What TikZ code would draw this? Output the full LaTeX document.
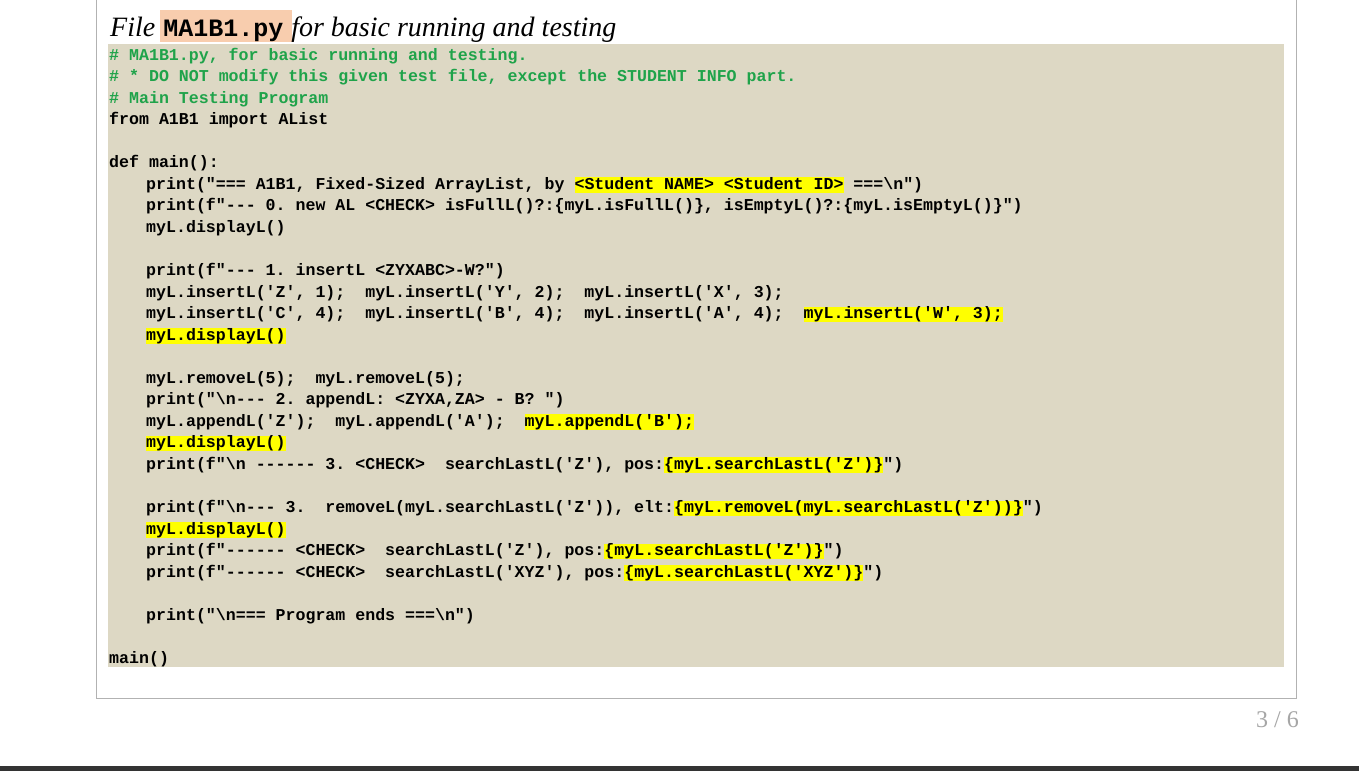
\documentclass[tikz,border=0pt]{standalone}
\usepackage{fontspec}
\setmainfont{Liberation Serif}
\setmonofont{Liberation Mono}
\definecolor{codebg}{HTML}{DDD8C4}
\definecolor{cmt}{HTML}{1FA34A}
\definecolor{peach}{HTML}{F8CDAE}
\definecolor{hl}{HTML}{FFFF00}
\newcommand{\hlt}[1]{{\setlength{\fboxsep}{0pt}\colorbox{hl}{\vphantom{Ay(}\smash{\rule[-5pt]{0pt}{18pt}}#1}}}
\begin{document}
\begin{tikzpicture}[x=1pt,y=-1pt,
  code/.style={anchor=base west,inner sep=0pt,font=\fontsize{16.6}{18}\ttfamily\bfseries},
  comment/.style={code,text=cmt}]
\useasboundingbox (0,0) rectangle (1359,771);
\fill[white] (0,0) rectangle (1359,771);
\draw[gray!60,line width=0.8pt] (96,-5) rectangle (1296,698);
\fill[black!80] (0,766) rectangle (1359,771);
\node[anchor=base east,inner sep=0pt,text=gray!70,font=\fontsize{24}{26}\selectfont] (pg) at (1299,727) {3 / 6};
% title
\fill[peach] (160,10) rectangle (292,42);
\node[anchor=base west,inner sep=0pt,font=\fontsize{28}{30}\itshape] (title) at (110,36)
  {File \textup{\fontsize{25}{26}\ttfamily\bfseries\hspace{1pt}MA1B1.py\hspace{1pt}} for basic running and testing};
\fill[codebg] (108,44) rectangle (1284,667);
\def\L{21.55}
\node[comment] (l1) at (109,60) {\# MA1B1.py, for basic running and testing.};
\node[comment] (l2) at (109,60+\L) {\# * DO NOT modify this given test file, except the STUDENT INFO part.};
\node[comment] (l3) at (109,60+2*\L) {\# Main Testing Program};
\node[code] (l4) at (109,60+3*\L) {from A1B1 import AList};
\node[code] (l6) at (109,60+5*\L) {def main():};
\node[code] (l7) at (146,60+6*\L) {print("=== A1B1, Fixed-Sized ArrayList, by \hlt{<Student NAME> <Student ID>} ===\textbackslash n")};
\node[code] (l8) at (146,60+7*\L) {print(f"--- 0. new AL <CHECK> isFullL()?:\{myL.isFullL()\}, isEmptyL()?:\{myL.isEmptyL()\}")};
\node[code] (l9) at (146,60+8*\L) {myL.displayL()};
\node[code] (l11) at (146,60+10*\L) {print(f"--- 1. insertL <ZYXABC>-W?")};
\node[code] (l12) at (146,60+11*\L) {myL.insertL('Z', 1);~ myL.insertL('Y', 2);~ myL.insertL('X', 3);};
\node[code] (l13) at (146,60+12*\L) {myL.insertL('C', 4);~ myL.insertL('B', 4);~ myL.insertL('A', 4);~ \hlt{myL.insertL('W', 3);}};
\node[code] (l14) at (146,60+13*\L) {\hlt{myL.displayL()}};
\node[code] (l16) at (146,60+15*\L) {myL.removeL(5);~ myL.removeL(5);};
\node[code] (l17) at (146,60+16*\L) {print("\textbackslash n--- 2. appendL: <ZYXA,ZA> - B? ")};
\node[code] (l18) at (146,60+17*\L) {myL.appendL('Z');~ myL.appendL('A');~ \hlt{myL.appendL('B');}};
\node[code] (l19) at (146,60+18*\L) {\hlt{myL.displayL()}};
\node[code] (l20) at (146,60+19*\L) {print(f"\textbackslash n ------ 3. <CHECK>~ searchLastL('Z'), pos:\hlt{\{myL.searchLastL('Z')\}}")};
\node[code] (l22) at (146,60+21*\L) {print(f"\textbackslash n--- 3.~ removeL(myL.searchLastL('Z')), elt:\hlt{\{myL.removeL(myL.searchLastL('Z'))\}}")};
\node[code] (l23) at (146,60+22*\L) {\hlt{myL.displayL()}};
\node[code] (l24) at (146,60+23*\L) {print(f"------ <CHECK>~ searchLastL('Z'), pos:\hlt{\{myL.searchLastL('Z')\}}")};
\node[code] (l25) at (146,60+24*\L) {print(f"------ <CHECK>~ searchLastL('XYZ'), pos:\hlt{\{myL.searchLastL('XYZ')\}}")};
\node[code] (l27) at (146,60+26*\L) {print("\textbackslash n=== Program ends ===\textbackslash n")};
\node[code] (l29) at (109,60+28*\L) {main()};
\end{tikzpicture}
\end{document}
